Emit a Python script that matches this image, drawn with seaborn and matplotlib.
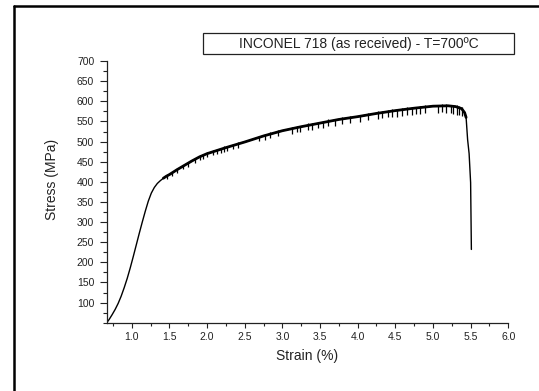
import numpy as np
import pandas as pd
import matplotlib
matplotlib.use("Agg")
import matplotlib.pyplot as plt
import seaborn as sns
from matplotlib.patches import Rectangle
from matplotlib.lines import Line2D
from matplotlib.ticker import MultipleLocator

# smooth stress-strain curve
strain = [0.668, 0.70, 0.74, 0.78, 0.82, 0.86, 0.90, 0.94, 0.98, 1.02, 1.06, 1.10,
          1.14, 1.18, 1.22, 1.26, 1.30, 1.34, 1.38, 1.42, 1.46, 1.50, 1.60, 1.70,
          1.80, 1.90, 2.00, 2.25, 2.50, 2.75, 3.00, 3.25, 3.50, 3.75, 4.00, 4.25,
          4.50, 4.75, 5.00, 5.20, 5.30, 5.38, 5.42, 5.44, 5.46, 5.48, 5.50, 5.51]
stress = [50, 58, 70, 83, 98, 116, 137, 160, 186, 214, 243, 272,
          300, 327, 352, 372, 386, 396, 403, 409, 414, 418, 430, 441,
          452, 462, 470, 485, 499, 514, 527, 537, 546, 555, 562, 570,
          577, 583, 588, 589, 587, 582, 572, 560, 505, 470, 398, 232]

# serrations (downward drops) in the plastic region
spike_strain = [1.465, 1.531, 1.598, 1.685, 1.752, 1.841, 1.907, 1.951, 1.996, 2.084,
                2.129, 2.182, 2.226, 2.262, 2.349, 2.416, 2.695, 2.770, 2.837, 2.947,
                3.125, 3.191, 3.235, 3.345, 3.390, 3.478, 3.545, 3.611, 3.700, 3.789,
                3.899, 4.032, 4.142, 4.275, 4.320, 4.408, 4.453, 4.519, 4.586, 4.652,
                4.719, 4.776, 4.829, 4.895, 5.072, 5.117, 5.174, 5.236, 5.271, 5.316,
                5.351, 5.382]
spike_low = [408, 414, 422, 431, 438, 447, 454, 457, 461, 466,
             468, 472, 474, 476, 481, 484, 501, 505, 508, 513,
             520, 523, 524, 529, 530, 533, 535, 538, 540, 543,
             546, 549, 553, 556, 558, 560, 561, 562, 564, 565,
             567, 568, 569, 570, 572, 573, 572, 570, 569, 567,
             565, 564]
spike_high = [418, 425, 434, 443, 450, 460, 467, 470, 474, 479,
              482, 485, 488, 490, 495, 498, 515, 519, 523, 528,
              536, 539, 540, 545, 546, 549, 552, 555, 557, 560,
              563, 567, 571, 575, 576, 578, 580, 581, 583, 585,
              586, 587, 589, 590, 592, 593, 593, 592, 592, 590,
              588, 586]

sns.set_style("ticks")
plt.rcParams["font.family"] = ["Liberation Sans", "DejaVu Sans"]

df = pd.DataFrame({"Strain": strain, "Stress": stress})

fig = plt.figure(figsize=(5.39, 3.91), dpi=100)
ax = fig.add_axes([0.198, 0.1747, 0.745, 0.669])

sns.lineplot(data=df, x="Strain", y="Stress", sort=False, estimator=None,
             color="black", linewidth=1.0, ax=ax)
plastic = df[(df["Strain"] >= 1.42) & (df["Strain"] <= 5.44)]
sns.lineplot(data=plastic, x="Strain", y="Stress", sort=False, estimator=None,
             color="black", linewidth=2.0, ax=ax)
ax.vlines(spike_strain, spike_low, spike_high, color="black", linewidth=0.9)

ax.set_xlim(0.668, 6.0)
ax.set_ylim(50, 700)
ax.xaxis.set_major_locator(MultipleLocator(0.5))
ax.xaxis.set_minor_locator(MultipleLocator(0.25))
ax.yaxis.set_minor_locator(MultipleLocator(25))
ax.set_yticks(np.arange(100, 701, 50))

for s in ["top", "right"]:
    ax.spines[s].set_visible(False)
for s in ["left", "bottom"]:
    ax.spines[s].set_linewidth(0.9)
    ax.spines[s].set_color("#222222")

ax.tick_params(axis="x", which="major", length=3.5, width=0.8, pad=3,
               labelsize=7.5, colors="#222222")
ax.tick_params(axis="x", which="minor", length=2, width=0.8, colors="#222222")
ax.tick_params(axis="y", which="major", length=5, width=0.8, pad=4,
               labelsize=7.5, colors="#222222")
ax.tick_params(axis="y", which="minor", length=3, width=0.8, colors="#222222")

ax.set_xlabel("Strain (%)", fontsize=10, color="#222222")
ax.set_ylabel("Stress (MPa)", fontsize=10, color="#222222")
ax.xaxis.set_label_coords(0.5, -0.1)
ax.yaxis.set_label_coords(-0.12, 0.549)

# title box
fig.patches.append(Rectangle((0.3774, 0.8611), 0.577, 0.0537, transform=fig.transFigure,
                             facecolor="white", edgecolor="#222222", linewidth=0.9))
fig.text(0.6659, 0.888, "INCONEL 718 (as received) - T=700ºC", fontsize=10,
         ha="center", va="center", color="#222222")

# outer frame (left and top edges)
fig.add_artist(Line2D([0.0269, 0.0269], [0.0, 0.9834], transform=fig.transFigure,
                      color="black", linewidth=1.8))
fig.add_artist(Line2D([0.0269, 1.0], [0.9834, 0.9834], transform=fig.transFigure,
                      color="black", linewidth=1.8))

fig.savefig("out.png", dpi=100)
